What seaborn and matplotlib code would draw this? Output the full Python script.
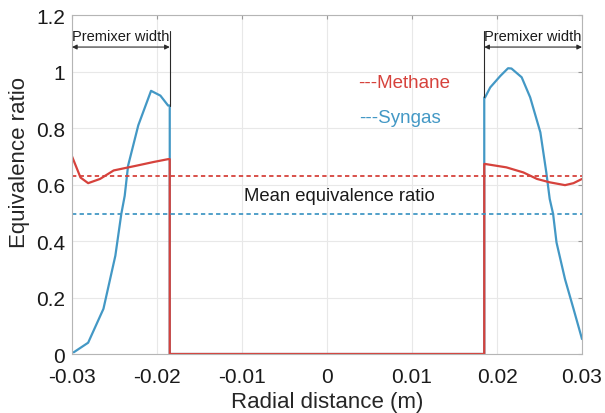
import numpy as np
import pandas as pd
import matplotlib
matplotlib.use("Agg")
import matplotlib.pyplot as plt
import seaborn as sns

# Radial positions / values
methane_x = [-0.03, -0.029, -0.0281, -0.0267, -0.0251, -0.0224, -0.0204, -0.0187, -0.0185,
             -0.0185, 0.0185, 0.0185, 0.0186, 0.0211, 0.0231, 0.0247, 0.0262, 0.028, 0.029, 0.03]
methane_y = [0.70, 0.625, 0.605, 0.62, 0.65, 0.667, 0.68, 0.69, 0.69,
             0.0, 0.0, 0.673, 0.673, 0.661, 0.643, 0.62, 0.608, 0.598, 0.605, 0.62]

syngas_x = [-0.0298, -0.0281, -0.0263, -0.0249, -0.0242, -0.0238, -0.0234, -0.0222, -0.0207,
            -0.0196, -0.0187, -0.0185, -0.0185, 0.0185, 0.0185, 0.0186, 0.0192, 0.0204, 0.0213,
            0.0217, 0.0229, 0.0239, 0.0251, 0.0258, 0.0262, 0.0266, 0.027, 0.028, 0.029, 0.03]
syngas_y = [0.006, 0.04, 0.16, 0.348, 0.496, 0.56, 0.667, 0.81, 0.932,
            0.915, 0.88, 0.88, 0.0, 0.0, 0.909, 0.909, 0.944, 0.985, 1.012,
            1.011, 0.98, 0.909, 0.785, 0.643, 0.549, 0.496, 0.395, 0.265, 0.16, 0.053]

mean_methane = 0.632
mean_syngas = 0.497
premixer_left = (-0.03, -0.0185)
premixer_right = (0.0185, 0.03)

x_ticks = [-0.03, -0.02, -0.01, 0, 0.01, 0.02, 0.03]
x_tick_labels = ["-0.03", "-0.02", "-0.01", "0", "0.01", "0.02", "0.03"]
y_ticks = [0, 0.2, 0.4, 0.6, 0.8, 1.0, 1.2]
y_tick_labels = ["0", "0.2", "0.4", "0.6", "0.8", "1", "1.2"]

RED = "#d6423c"
BLUE = "#4398c5"
DARK = "#2a2a2a"

sns.set_theme(style="whitegrid")
plt.rcParams['font.family'] = ['Liberation Sans', 'DejaVu Sans']

fig = plt.figure(figsize=(6.05, 4.14), dpi=100)
ax = fig.add_axes([0.119, 0.1425, 0.843, 0.8185])

syngas = pd.DataFrame({"x": syngas_x, "y": syngas_y})
methane = pd.DataFrame({"x": methane_x, "y": methane_y})
sns.lineplot(data=syngas, x="x", y="y", sort=False, estimator=None, color=BLUE, lw=1.6, ax=ax)
sns.lineplot(data=methane, x="x", y="y", sort=False, estimator=None, color=RED, lw=1.6, ax=ax)

ax.axhline(mean_methane, color=RED, ls=(0, (2.4, 1.8)), lw=1.3)
ax.axhline(mean_syngas, color=BLUE, ls=(0, (2.4, 1.8)), lw=1.3)

# premixer width markers
for x0, x1 in [premixer_left, premixer_right]:
    ax.annotate("", xy=(x0, 1.087), xytext=(x1, 1.087),
                arrowprops=dict(arrowstyle="<|-|>", color=DARK, lw=0.8,
                                mutation_scale=7, shrinkA=0, shrinkB=0))
    ax.text((x0 + x1) / 2, 1.126, "Premixer width", ha="center", va="center",
            fontsize=10.5, color="#1a1a1a")
ax.plot([premixer_left[1]] * 2, [1.143, 0.88], color=DARK, lw=0.8)
ax.plot([premixer_right[0]] * 2, [1.143, 0.909], color=DARK, lw=0.8)

ax.text(0.0037, 0.962, "---Methane", color=RED, fontsize=13.5, va="center")
ax.text(0.0038, 0.838, "---Syngas", color=BLUE, fontsize=13.5, va="center")
ax.text(0.0014, 0.56, "Mean equivalence ratio", color="#1a1a1a", fontsize=13.3,
        ha="center", va="center")

ax.set_xlim(-0.03, 0.03)
ax.set_ylim(0, 1.2)
ax.set_xticks(x_ticks)
ax.set_xticklabels(x_tick_labels, fontsize=15)
ax.set_yticks(y_ticks)
ax.set_yticklabels(y_tick_labels, fontsize=15)
ax.set_xlabel("Radial distance (m)", fontsize=16)
ax.set_ylabel("Equivalence ratio", fontsize=16)
ax.xaxis.set_label_coords(0.5, -0.11)
ax.yaxis.set_label_coords(-0.083, 0.569)
ax.grid(True, color="#e8e8e8", lw=0.8)
ax.set_facecolor("white")
for sp in ax.spines.values():
    sp.set_color("#b5b5b5")
    sp.set_linewidth(0.8)
ax.tick_params(axis="both", direction="in", length=3, width=0.8, color="#999999",
               labelcolor="#1a1a1a", top=True, right=True)
ax.tick_params(axis="x", pad=9)
ax.tick_params(axis="y", pad=5)

fig.savefig("out.png", dpi=100)
